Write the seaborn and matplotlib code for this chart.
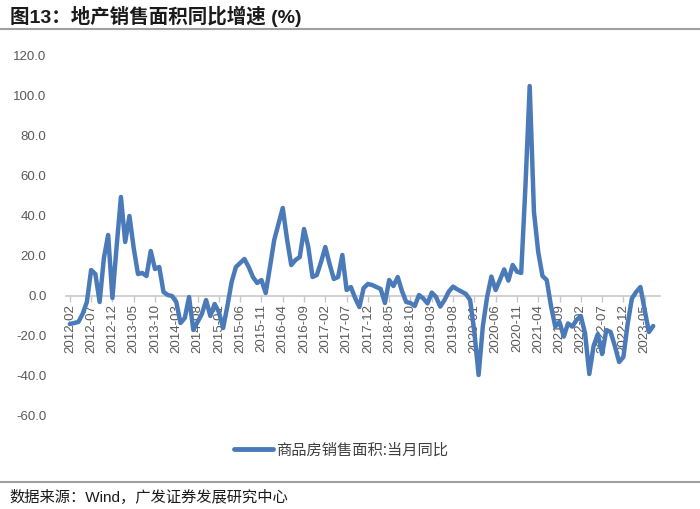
import numpy as np
import pandas as pd
import matplotlib
matplotlib.use("Agg")
import matplotlib.pyplot as plt
from matplotlib.lines import Line2D
import seaborn as sns

# ---------------- data ----------------
months = [p.strftime("%Y-%m") for p in pd.period_range("2012-02", "2023-07", freq="M")]

yoy = [
    -14, -13.5, -13, -9, -3, 13, 11, -3, 19, 30.5,          # 2012-02 .. 2012-11
    -1, 25, 49.5, 27, 40, 24, 11, 11.5, 10, 22.5,           # 2012-12 .. 2013-09
    13.5, 14.5, 2, 0.5, 0, -3, -13.5, -11, -0.5, -17,       # 2013-10 .. 2014-07
    -13, -9, -2, -10, -4, -8, -16, -5, 7, 14.5,             # 2014-08 .. 2015-05
    16.5, 18.5, 14.5, 9.5, 6.5, 8, 1.5, 14.5, 28, 36,       # 2015-06 .. 2016-03
    44, 28.5, 15.5, 18, 19.5, 33.5, 24.5, 9.5, 10.5, 17,    # 2016-04 .. 2017-01
    24.5, 16, 8.5, 9.5, 20.5, 3, 4.5, -1, -5.5, 4,          # 2017-02 .. 2017-11
    6, 5.5, 4.5, 3.5, -3.5, 8, 5, 9.5, 2.5, -3,             # 2017-12 .. 2018-09
    -3.5, -5, 0.5, -1.2, -3.7, 1.7, -0.5, -5.3, -2, 2.2,    # 2018-10 .. 2019-07
    4.7, 3.3, 2.2, 1, -2, -18, -39.5, -15, -0.5, 9.7,       # 2019-08 .. 2020-05
    3, 8, 13.3, 7.7, 15.5, 12.2, 11.5, 55, 105, 42,         # 2020-06 .. 2021-03
    22, 10, 8, -5, -15.3, -13, -20.3, -13.7, -15.3, -12,    # 2021-04 .. 2022-01
    -10, -18.7, -39, -25, -19, -29, -17, -18, -25, -33,     # 2022-02 .. 2022-11
    -30.5, -14, -1.2, 2, 4.5, -7, -18, -15,                 # 2022-12 .. 2023-07
]

tick_labels = months[::5]
y_ticks = [120, 100, 80, 60, 40, 20, 0, -20, -40, -60]

series_name = "商品房销售面积:当月同比"
title = "图13：地产销售面积同比增速 (%)"
source = "数据来源：Wind，广发证券发展研究中心"

df = pd.DataFrame({"month": months, "idx": range(len(months)), "value": yoy})

# ---------------- style ----------------
sns.set_theme(style="white")
plt.rcParams["font.family"] = ["Liberation Sans", "Noto Sans CJK SC", "DejaVu Sans"]
plt.rcParams["axes.unicode_minus"] = False

W, H = 700, 509
fig = plt.figure(figsize=(W / 100, H / 100), dpi=100)
ax = fig.add_axes([66 / W, 93 / H, 594 / W, 360 / H])

blue = "#4a7ab8"
grey_txt = "#595959"

sns.lineplot(data=df, x="idx", y="value", ax=ax, color=blue, linewidth=3.2,
             legend=False, solid_joinstyle="round", solid_capstyle="round",
             zorder=3)

ax.set_ylim(-60, 120)
ax.set_xlim(-0.9, len(months) + 0.6)
ax.set_yticks(y_ticks)
ax.set_yticklabels([f"{v:.1f}" for v in y_ticks])
ax.set_xticks(list(df["idx"][::5]))
ax.set_xticklabels(tick_labels)
ax.set_xlabel("")
ax.set_ylabel("")

for s in ["top", "right", "left"]:
    ax.spines[s].set_visible(False)
ax.spines["bottom"].set_position(("data", 0))
ax.spines["bottom"].set_color("#c8c8c8")
ax.spines["bottom"].set_linewidth(1.2)
ax.spines["bottom"].set_zorder(0.5)

ax.tick_params(axis="y", length=0, pad=14, labelsize=9.5, labelcolor=grey_txt)
ax.tick_params(axis="x", length=4, width=1, color="#c8c8c8", direction="out",
               pad=2, labelsize=9.5, labelcolor=grey_txt, bottom=True,
               labelrotation=90)
for lab in ax.get_xticklabels():
    lab.set_rotation(90)
    lab.set_va("top")
    lab.set_ha("center")
ax.xaxis.set_zorder(1)
ax.grid(False)

# legend
handle = Line2D([0], [0], color=blue, linewidth=3.5)
fig.legend([handle], [series_name], loc="center",
           bbox_to_anchor=(341 / W, 1 - 450 / H), frameon=False,
           handlelength=2.6, handletextpad=0.2,
           prop={"family": ["Noto Sans CJK SC"], "size": 11, "weight": "light"},
           labelcolor="#404040")

# title and rules
fig.text(10 / W, 1 - 16 / H, title, fontsize=14, fontweight="bold",
         ha="left", va="center", color="#1a1a1a",
         family=["Liberation Sans", "Noto Sans CJK SC"])
fig.add_artist(Line2D([0, 1], [1 - 29 / H] * 2, color="#a0a0a0", lw=1.5,
                      transform=fig.transFigure))
fig.add_artist(Line2D([0, 1], [1 - 482 / H] * 2, color="#a0a0a0", lw=1.5,
                      transform=fig.transFigure))
fig.text(9 / W, 1 - 497 / H, source, fontsize=11, ha="left", va="center",
         color="#1a1a1a", family=["Liberation Sans", "Noto Sans CJK SC"])

fig.savefig("out.png", dpi=100, facecolor="white")
